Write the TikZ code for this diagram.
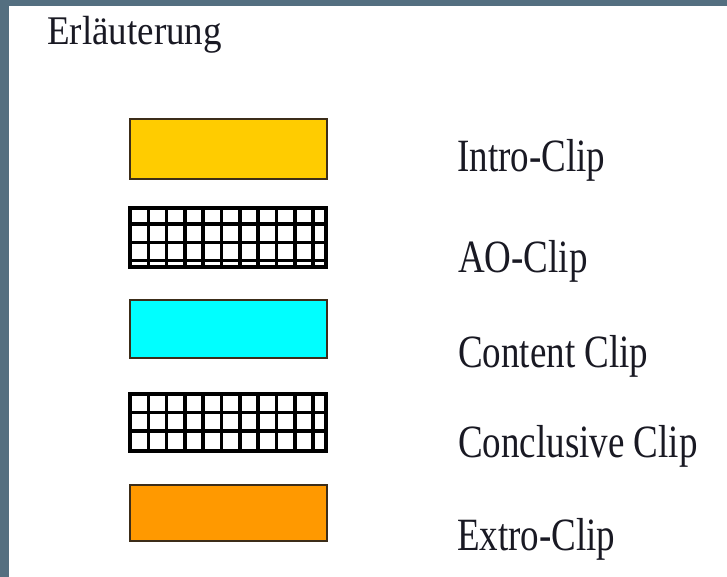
\documentclass[tikz,border=0pt]{standalone}
\usepackage{fontspec}
\setmainfont{Liberation Serif}
\usetikzlibrary{calc}
\definecolor{frameblue}{RGB}{84,111,128}
\definecolor{boxline}{RGB}{60,45,25}
\definecolor{introyellow}{RGB}{255,204,0}
\definecolor{contentcyan}{RGB}{0,255,255}
\definecolor{extroorange}{RGB}{255,153,0}
\definecolor{textdark}{RGB}{25,25,35}
\begin{document}
\begin{tikzpicture}[x=1pt,y=-1pt,
  legbox/.style={draw=boxline, line width=2pt, minimum width=197pt, minimum height=60pt, inner sep=0pt, outer sep=0pt, anchor=north west},
  gridbox/.style={draw=black, line width=3.6pt, minimum width=196pt, minimum height=59pt, inner sep=0pt, outer sep=0pt, anchor=north west},
  gridline/.style={draw=black, line width=3.6pt},
  legtext/.style={anchor=base west, inner sep=0pt, text=textdark, font=\fontsize{37}{44}\selectfont, yscale=1.25, transform shape}]
\useasboundingbox (0,0) rectangle (727,577);
\fill[frameblue] (0,0) rectangle (727,577);
\fill[white] (9,6) rectangle (727,577);

\node[legtext, yscale=0.88] (title) at (47,45) {Erläuterung};

\node[legbox, fill=introyellow] (intro) at (130,119) {};
\node[gridbox, fill=white, minimum height=59pt] (ao) at (130,208) {};
\node[legbox, fill=contentcyan, minimum height=58pt] (content) at (130,300) {};
\node[gridbox, fill=white, minimum height=57pt] (concl) at (130,394) {};
\node[legbox, fill=extroorange, minimum height=56pt] (extro) at (130,485) {};

% grid for AO-Clip
\foreach \i in {1,...,10} {
  \draw[gridline] ($(ao.north west)+(18.3*\i,0)$) -- ($(ao.south west)+(18.3*\i,0)$);
}
\draw[gridline] ($(ao.north west)+(0,16)$) -- ($(ao.north east)+(0,16)$);
\draw[gridline] ($(ao.north west)+(0,34.5)$) -- ($(ao.north east)+(0,34.5)$);
\draw[gridline] ($(ao.north west)+(0,52.5)$) -- ($(ao.north east)+(0,52.5)$);

% grid for Conclusive Clip
\foreach \i in {1,...,10} {
  \draw[gridline] ($(concl.north west)+(18.3*\i,0)$) -- ($(concl.south west)+(18.3*\i,0)$);
}
\draw[gridline] ($(concl.north west)+(0,18.5)$) -- ($(concl.north east)+(0,18.5)$);
\draw[gridline] ($(concl.north west)+(0,37)$) -- ($(concl.north east)+(0,37)$);

\node[legtext] (lintro) at (457,172) {Intro-Clip};
\node[legtext] (lao) at (458,272) {AO-Clip};
\node[legtext] (lcontent) at (458,367) {Content Clip};
\node[legtext] (lconcl) at (458,457) {Conclusive Clip};
\node[legtext] (lextro) at (457,550) {Extro-Clip};
\end{tikzpicture}
\end{document}
